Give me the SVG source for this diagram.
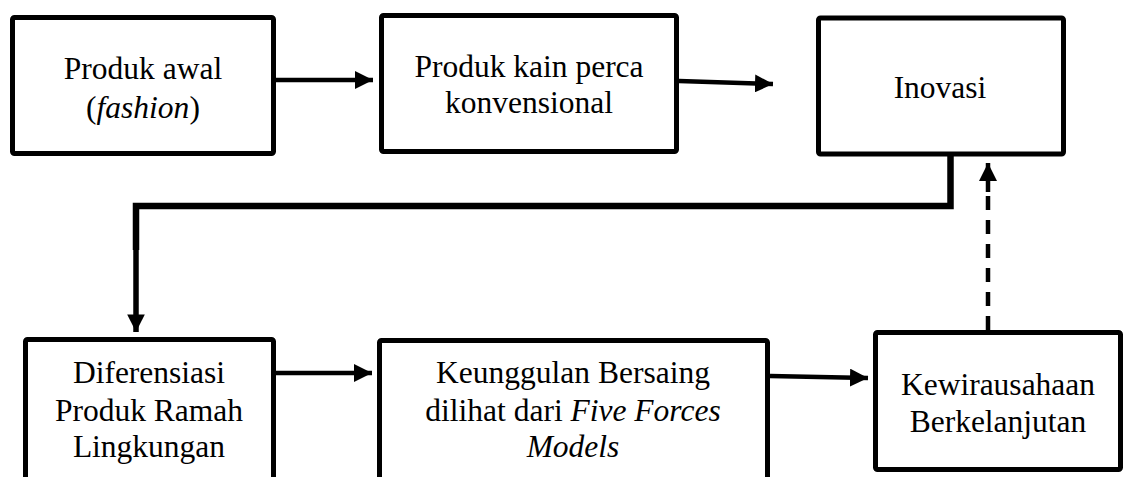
<svg xmlns="http://www.w3.org/2000/svg" width="1125" height="477" viewBox="0 0 1125 477">
<defs>
<marker id="ah" viewBox="0 0 10 10" refX="10" refY="5" markerWidth="4" markerHeight="4" markerUnits="strokeWidth" orient="auto">
<path d="M0,0 L10,5 L0,10 z" fill="#000"/>
</marker>
<marker id="ah2" viewBox="0 0 10 10" refX="10" refY="5" markerWidth="3.2" markerHeight="3.2" markerUnits="strokeWidth" orient="auto">
<path d="M0,0 L10,5 L0,10 z" fill="#000"/>
</marker>
</defs>
<rect width="1125" height="477" fill="#fff"/>
<g id="connectors" fill="none" stroke="#000" stroke-width="4.5">
<line x1="276" y1="80" x2="373" y2="80" marker-end="url(#ah)"/>
<line x1="679" y1="81" x2="773" y2="84" marker-end="url(#ah)"/>
<polyline stroke-width="6.5" points="950.5,156 950.5,206 136,206 136,250"/>
<line x1="136" y1="205" x2="136" y2="332" marker-end="url(#ah2)" stroke-width="5.5"/>
<line x1="276" y1="373" x2="372" y2="373" marker-end="url(#ah)"/>
<line x1="770" y1="376" x2="868" y2="378" marker-end="url(#ah)"/>
<line x1="988" y1="330" x2="988" y2="186" stroke-dasharray="14,10"/>
<line x1="988" y1="192" x2="988" y2="163" marker-end="url(#ah)"/>
</g>
<g id="n1">
<rect fill="#fff" stroke="#000" stroke-width="5" x="12.5" y="17.5" width="261" height="136" rx="2"/>
<text font-family="'Liberation Serif'" font-size="31.5" text-anchor="middle" x="143" y="79">Produk awal</text>
<text font-family="'Liberation Serif'" font-size="31.5" text-anchor="middle" x="143" y="118">(<tspan font-style="italic">fashion</tspan>)</text>
</g>
<g id="n2">
<rect fill="#fff" stroke="#000" stroke-width="5" x="381.5" y="15.5" width="295" height="136" rx="2"/>
<text font-family="'Liberation Serif'" font-size="31.5" text-anchor="middle" x="529" y="77">Produk kain perca</text>
<text font-family="'Liberation Serif'" font-size="31.5" text-anchor="middle" x="529" y="113">konvensional</text>
</g>
<g id="n3">
<rect fill="#fff" stroke="#000" stroke-width="5" x="818.5" y="18" width="245" height="136" rx="2"/>
<text font-family="'Liberation Serif'" font-size="31.5" text-anchor="middle" x="940" y="98">Inovasi</text>
</g>
<g id="n4">
<rect fill="#fff" stroke="#000" stroke-width="5" x="25.5" y="339.5" width="248" height="160" rx="2"/>
<text font-family="'Liberation Serif'" font-size="31.5" text-anchor="middle" x="149" y="383">Diferensiasi</text>
<text font-family="'Liberation Serif'" font-size="31.5" text-anchor="middle" x="149" y="421">Produk Ramah</text>
<text font-family="'Liberation Serif'" font-size="31.5" text-anchor="middle" x="149" y="457">Lingkungan</text>
</g>
<g id="n5">
<rect fill="#fff" stroke="#000" stroke-width="5" x="379.5" y="340.5" width="388" height="160" rx="2"/>
<text font-family="'Liberation Serif'" font-size="31.5" text-anchor="middle" x="573" y="383">Keunggulan Bersaing</text>
<text font-family="'Liberation Serif'" font-size="31.5" text-anchor="middle" x="573" y="421">dilihat dari <tspan font-style="italic">Five Forces</tspan></text>
<text font-family="'Liberation Serif'" font-size="31.5" font-style="italic" text-anchor="middle" x="573" y="457">Models</text>
</g>
<g id="n6">
<rect fill="#fff" stroke="#000" stroke-width="5" x="875.5" y="332.5" width="245" height="137" rx="2"/>
<text font-family="'Liberation Serif'" font-size="31.5" text-anchor="middle" x="998" y="395">Kewirausahaan</text>
<text font-family="'Liberation Serif'" font-size="31.5" text-anchor="middle" x="998" y="432">Berkelanjutan</text>
</g>
</svg>
